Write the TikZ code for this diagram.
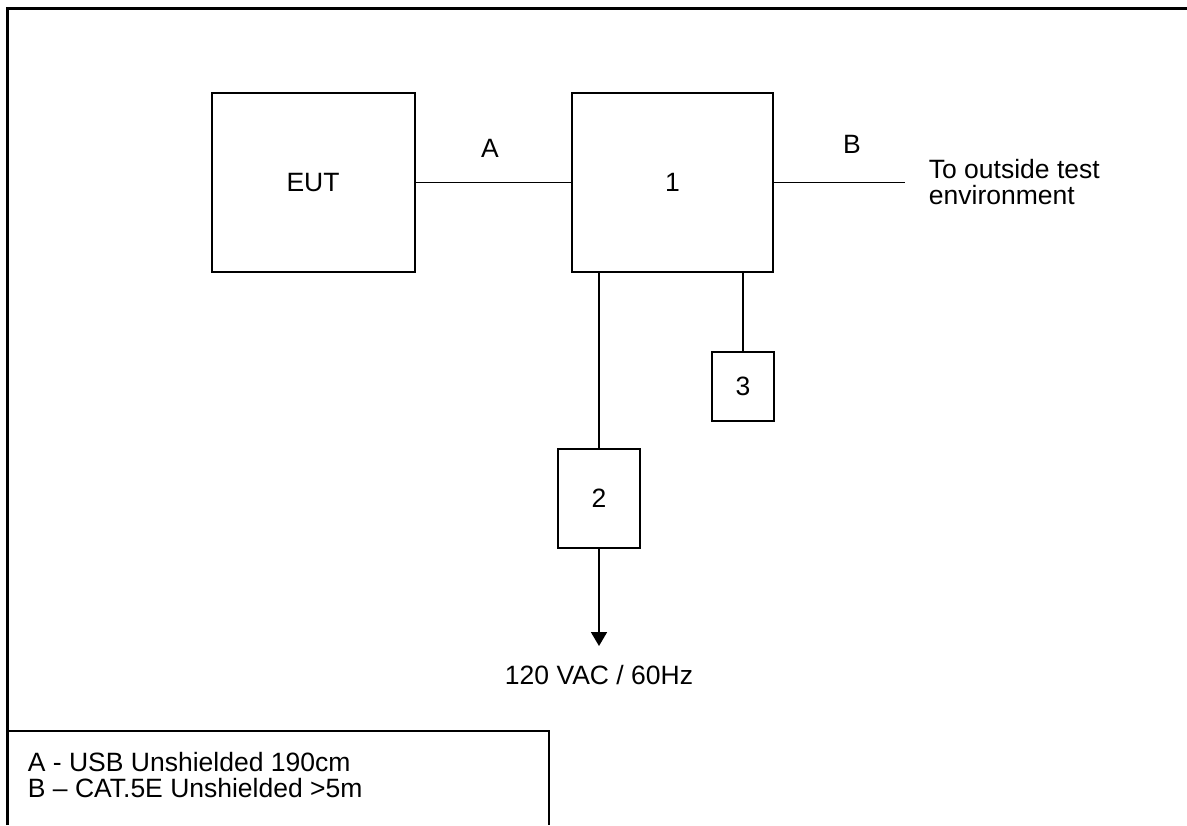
\documentclass[tikz,border=0pt]{standalone}
\usepackage{fontspec}
\setmainfont{Liberation Sans}
\usetikzlibrary{arrows.meta,positioning}
\begin{document}
\begin{tikzpicture}[x=0.5pt, y=-0.5pt, line width=0.9pt,
    every node/.style={font=\fontsize{13.25}{13}\selectfont},
    unit/.style={draw, line width=1pt, inner sep=0pt}]
    \useasboundingbox (0, 0) rectangle (1187, 825);
    \draw[line width=1.5pt] (7.5, 825) -- (7.5, 8) -- (1187, 8);

    % boxes
    \node[unit, minimum width=101.5pt, minimum height=89.5pt] (eut) at (313, 182.5) {EUT};
    \node[unit, minimum width=100.5pt, minimum height=89.5pt] (one) at (672.5, 182.5) {1};
    \node[unit, minimum width=41pt, minimum height=49.5pt] (two) at (599, 498.5) {2};
    \node[unit, minimum width=31pt, minimum height=34.5pt] (three) at (743, 386.5) {3};

    % cables
    \draw (eut.east) -- (one.west);
    \node (labA) at (490, 148.5) {A};
    \coordinate (bend) at (905, 182.5);
    \draw (one.east) -- (bend);
    \node (labB) at (852, 144.5) {B};
    \node[right=11.5pt of bend, inner sep=0pt, align=left] (outside) {To outside test\\environment};

    \draw (two.north) -- (two.north |- one.south);
    \draw (three.north) -- (three.north |- one.south);

    % mains
    \coordinate (tip) at (599, 646);
    \draw[-{Triangle[width=8pt, length=7pt]}] (two.south) -- (tip);
    \node[below=9pt of tip, inner sep=0pt] (mains) {120 VAC / 60Hz};

    % legend
    \draw (7.5, 731) -- (549, 731) -- (549, 825);
    \node[anchor=north west, inner sep=0pt, align=left] (legend) at (27, 751)
        {A - USB Unshielded 190cm\\B – CAT.5E Unshielded >5m};
\end{tikzpicture}
\end{document}
